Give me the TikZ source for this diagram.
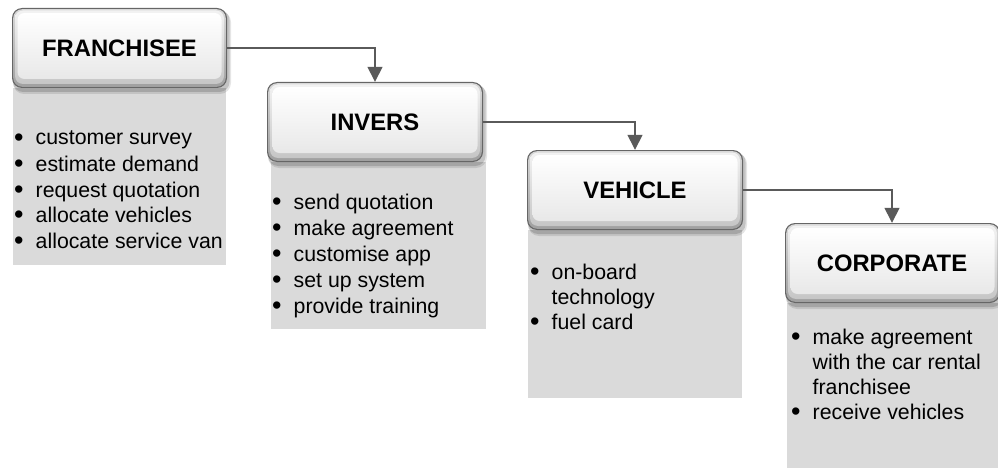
\documentclass[tikz,border=0pt]{standalone}
\usepackage{fontspec}
\setmainfont{Liberation Sans}
\usetikzlibrary{arrows.meta}
\definecolor{panelgray}{HTML}{DADADA}
\definecolor{rimgray}{HTML}{666666}
\definecolor{connc}{HTML}{5A5A5A}
\tikzset{
  panel/.style={fill=panelgray},
  hdrlabel/.style={font=\fontsize{23.8}{26}\selectfont\bfseries, inner sep=0pt},
  itemline/.style={font=\fontsize{21.3}{25}\selectfont, anchor=base west, inner sep=0pt},
  conn/.style={draw=connc, line width=1.5pt, -{Triangle[width=15pt,length=15pt]}},
}
\newcommand\hdrbox[4]{%
  \fill[black,opacity=0.10,rounded corners=11pt] (#1+1,#2+3) rectangle (#3+4,#4+6);
  \fill[black,opacity=0.15,rounded corners=10pt] (#1+1,#2+2) rectangle (#3+2.5,#4+4);
  \fill[rimgray,rounded corners=10pt] (#1,#2) rectangle (#3,#4);
  \shade[rounded corners=9pt, top color=gray!30, bottom color=gray!75] (#1+1.2,#2+1.2) rectangle (#3-1.2,#4-1.2);
  \shade[rounded corners=8pt, top color=gray!10, bottom color=gray!45] (#1+3,#2+2.5) rectangle (#3-3,#4-4);
  \shade[rounded corners=7pt, top color=white, bottom color=gray!18] (#1+5.5,#2+5) rectangle (#3-5.5,#4-9);
}
\newcommand\bl[1]{\makebox[21.5pt][l]{\raisebox{-1.2pt}{\fontsize{27}{27}\selectfont\textbullet}}#1}
\newcommand\cont[1]{\hspace*{21.5pt}#1}
\begin{document}
\begin{tikzpicture}[x=1pt,y=-1pt]
\useasboundingbox (0,0) rectangle (998,468);
% panels
\fill[panel] (13,88) rectangle (226,265);
\fill[panel] (271,162) rectangle (486,329);
\fill[panel] (528,230) rectangle (742,398);
\fill[panel] (787,303) rectangle (998,468);
% header boxes
\hdrbox{12}{8}{227}{88}
\hdrbox{267}{82}{483}{162}
\hdrbox{527}{150}{743}{230}
\hdrbox{785}{223}{1000}{303}
\node[hdrlabel, minimum width=215pt, minimum height=80pt] (fr) at (119.5,48) {FRANCHISEE};
\node[hdrlabel, minimum width=216pt, minimum height=80pt] (inv) at (375,122) {INVERS};
\node[hdrlabel, minimum width=216pt, minimum height=80pt] (veh) at (635,190) {VEHICLE};
\node[hdrlabel, minimum width=213pt, minimum height=80pt] (cor) at (892,263) {CORPORATE};
% connectors
\draw[conn] (fr.east) -| (inv.north);
\draw[conn] (inv.east) -| (veh.north);
\draw[conn] (veh.east) -| (cor.north);
% franchisee items
\node[itemline] (f1) at (14,145) {\bl{customer survey}};
\node[itemline] (f2) at (14,171) {\bl{estimate demand}};
\node[itemline] (f3) at (14,197) {\bl{request quotation}};
\node[itemline] (f4) at (14,222) {\bl{allocate vehicles}};
\node[itemline] (f5) at (14,248) {\bl{allocate service van}};
% invers items
\node[itemline] (i1) at (272,209) {\bl{send quotation}};
\node[itemline] (i2) at (272,235) {\bl{make agreement}};
\node[itemline] (i3) at (272,261) {\bl{customise app}};
\node[itemline] (i4) at (272,287) {\bl{set up system}};
\node[itemline] (i5) at (272,313) {\bl{provide training}};
% vehicle items
\node[itemline] (v1) at (530,279) {\bl{on-board}};
\node[itemline] (v2) at (530,304) {\cont{technology}};
\node[itemline] (v3) at (530,329) {\bl{fuel card}};
% corporate items
\node[itemline] (c1) at (791,344) {\bl{make agreement}};
\node[itemline] (c2) at (791,369) {\cont{with the car rental}};
\node[itemline] (c3) at (791,394) {\cont{franchisee}};
\node[itemline] (c4) at (791,419) {\bl{receive vehicles}};
\end{tikzpicture}
\end{document}
